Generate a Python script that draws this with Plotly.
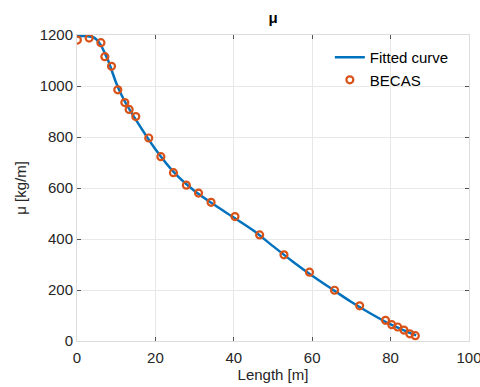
import plotly.graph_objects as go

# Fitted curve
fit_x = [0, 2, 4, 5, 6, 7, 8, 10, 12, 15, 20, 25, 30, 35, 40, 45, 50, 55, 60, 65, 70, 75, 80, 84, 86.5]
fit_y = [1195, 1196, 1192, 1182, 1162, 1132, 1098, 1012, 945, 868, 752, 657, 588, 534, 484, 433, 372, 312, 256, 204, 153, 107, 65, 38, 22]

# BECAS points
becas_x = [0.1, 3.1, 6.1, 7.1, 8.8, 10.4, 12.2, 13.3, 15.0, 18.3, 21.4, 24.6, 27.9, 31.0, 34.2, 40.3,
           46.6, 52.8, 59.3, 65.7, 72.1, 78.7, 80.3, 81.8, 83.4, 84.9, 86.3]
becas_y = [1180, 1188, 1170, 1115, 1077, 985, 935, 908, 880, 796, 723, 660, 611, 580, 544, 488,
           416, 338, 270, 199, 138, 81, 64, 55, 43, 28, 21]

x_ticks = [0, 20, 40, 60, 80, 100]
y_ticks = [0, 200, 400, 600, 800, 1000, 1200]

FONT = "Liberation Sans, Arial, sans-serif"
FS = 15

fig = go.Figure()
fig.add_trace(go.Scatter(x=fit_x, y=fit_y, mode="lines", name="Fitted curve",
                         line=dict(color="#0072BD", width=2.5, shape="spline", smoothing=0.8)))
fig.add_trace(go.Scatter(x=becas_x, y=becas_y, mode="markers", name="BECAS",
                         marker=dict(symbol="circle-open", size=7, color="#D95319",
                                     line=dict(width=2.2, color="#D95319"))))

axis_common = dict(showgrid=True, gridcolor="#e8e8e8", gridwidth=1,
                   showline=True, linecolor="#dcdcdc", linewidth=1, mirror="ticks",
                   ticks="inside", ticklen=4, tickcolor="#555555", automargin=False,
                   ticklabeloverflow="allow",
                   tickfont=dict(family=FONT, size=FS, color="#262626"))

fig.update_layout(
    width=480, height=387,
    margin=dict(l=77, r=11, t=35, b=46),
    paper_bgcolor="white", plot_bgcolor="white",
    font=dict(family=FONT, size=FS, color="#262626"),
    title=dict(text="<b>μ</b>", x=0.569, xanchor="center", y=0.953, yanchor="middle",
               font=dict(family=FONT, size=15, color="#000000")),
    xaxis=dict(range=[0, 100], tickvals=x_ticks, zeroline=False, ticklabelstandoff=3,
               title=dict(text="Length [m]", standoff=0, font=dict(family=FONT, size=FS)),
               **axis_common),
    yaxis=dict(range=[0, 1200], tickvals=y_ticks, zeroline=True, zerolinecolor="#262626",
               zerolinewidth=1.2,
               title=dict(text="μ [kg/m]", standoff=9, font=dict(family=FONT, size=FS)),
               **axis_common),
    legend=dict(x=0.645, y=0.98, xanchor="left", yanchor="top", bgcolor="rgba(0,0,0,0)",
                font=dict(family=FONT, size=FS, color="#000000"), tracegroupgap=0,
                itemwidth=30),
    showlegend=True,
)

fig.write_html("out.html", config={"displayModeBar": False},
               post_script="document.body.style.margin='0';document.body.style.padding='0';")
